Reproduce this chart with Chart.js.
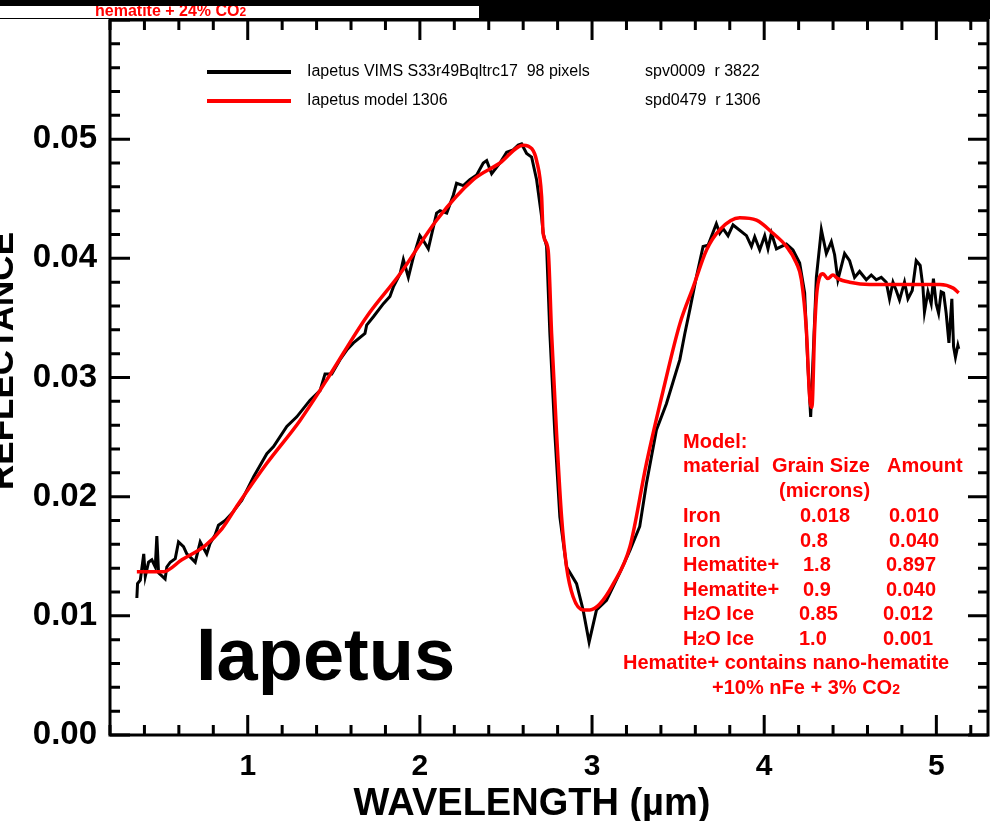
<!DOCTYPE html>
<html>
<head>
<meta charset="utf-8">
<script src="https://cdn.jsdelivr.net/npm/chart.js@4.4.1/dist/chart.umd.min.js"></script>
<style>
    html, body { margin: 0; padding: 0; background: #fff; }
    #wrap { width: 990px; height: 821px; }
</style>
</head>
<body>
<div id="wrap"><canvas id="chart" width="990" height="821"></canvas></div>
<script>
// VIMS spectrum (black)
const dataWave = [
    0.356, 0.36, 0.376, 0.396, 0.405, 0.424, 0.443, 0.463, 0.472, 0.482,
    0.52, 0.53, 0.55, 0.579, 0.598, 0.627, 0.646, 0.675, 0.695, 0.724,
    0.743, 0.762, 0.782, 0.811, 0.83, 0.869, 0.908, 0.966, 1.035, 1.111,
    1.15, 1.227, 1.285, 1.362, 1.42, 1.449, 1.488, 1.536, 1.575, 1.614,
    1.681, 1.691, 1.73, 1.788, 1.826, 1.846, 1.885, 1.904, 1.933, 1.962,
    2.0, 2.02, 2.049, 2.097, 2.117, 2.156, 2.194, 2.213, 2.252, 2.29,
    2.33, 2.368, 2.388, 2.417, 2.465, 2.504, 2.542, 2.571, 2.591, 2.62,
    2.649, 2.678, 2.707, 2.716, 2.736, 2.755, 2.784, 2.813, 2.852, 2.91,
    2.948, 2.983, 3.026, 3.084, 3.161, 3.22, 3.277, 3.316, 3.374, 3.432,
    3.47, 3.51, 3.539, 3.568, 3.607, 3.645, 3.674, 3.722, 3.742, 3.761, 3.79, 3.819,
    3.897, 3.926, 3.945, 3.974, 4.003, 4.022, 4.042, 4.071, 4.129, 4.167,
    4.206, 4.235, 4.254, 4.27, 4.303, 4.332, 4.361, 4.39, 4.409, 4.428,
    4.467, 4.496, 4.525, 4.554, 4.593, 4.622, 4.651, 4.68, 4.709, 4.728,
    4.748, 4.767, 4.786, 4.815, 4.835, 4.86, 4.883, 4.906, 4.922, 4.931,
    4.951, 4.97, 4.983, 4.999, 5.013, 5.028, 5.042, 5.057, 5.073, 5.09,
    5.1, 5.111, 5.125, 5.13,
];
const dataRefl = [
    0.0115, 0.0127, 0.0130, 0.0152, 0.0133, 0.0145, 0.0147, 0.0141, 0.0167, 0.0136,
    0.0131, 0.0141, 0.0145, 0.0148, 0.0162, 0.0158, 0.0152, 0.0148, 0.0145, 0.0162,
    0.0157, 0.0152, 0.0161, 0.0168, 0.0176, 0.0180, 0.0186, 0.0197, 0.0217, 0.0236,
    0.0242, 0.0259, 0.0267, 0.0281, 0.0289, 0.0303, 0.0303, 0.0315, 0.0323, 0.0329,
    0.0337, 0.0344, 0.0351, 0.0362, 0.0368, 0.0376, 0.0387, 0.0399, 0.0384, 0.0401,
    0.0419, 0.0415, 0.0408, 0.0438, 0.0440, 0.0438, 0.0453, 0.0463, 0.0461, 0.0466,
    0.0470, 0.0480, 0.0482, 0.0471, 0.0480, 0.0489, 0.0491, 0.0495, 0.0496, 0.0488,
    0.0485, 0.0466, 0.0435, 0.0421, 0.0410, 0.0337, 0.0253, 0.0183, 0.0141, 0.0127,
    0.0105, 0.0078, 0.0105, 0.0113, 0.0136, 0.0155, 0.0175, 0.0211, 0.0256, 0.0278,
    0.0296, 0.0315, 0.0337, 0.0357, 0.0385, 0.0410, 0.0411, 0.0429, 0.0421, 0.0425, 0.0419, 0.0428,
    0.0419, 0.0410, 0.0418, 0.0407, 0.0419, 0.0408, 0.0421, 0.0408, 0.0412, 0.0407,
    0.0396, 0.0371, 0.0309, 0.0267, 0.0384, 0.0424, 0.0404, 0.0414, 0.0403, 0.0382,
    0.0404, 0.0398, 0.0384, 0.0389, 0.0382, 0.0386, 0.0382, 0.0384, 0.0380, 0.0366,
    0.0380, 0.0373, 0.0365, 0.0380, 0.0366, 0.0373, 0.0398, 0.0394, 0.0376, 0.0355,
    0.0372, 0.0362, 0.0383, 0.0362, 0.0354, 0.0372, 0.0371, 0.0354, 0.0329, 0.0366,
    0.0326, 0.0317, 0.0327, 0.0324,
];

// model 1306 (red)
const modelWave = [
    0.356, 0.51, 0.617, 0.753, 0.85, 0.946, 1.111, 1.304, 1.459, 1.691,
    1.885, 2.097, 2.31, 2.465, 2.6, 2.65, 2.678, 2.707, 2.716, 2.745,
    2.765, 2.794, 2.823, 2.852, 2.89, 2.948, 2.987, 3.045, 3.12, 3.22,
    3.316, 3.413, 3.51, 3.588, 3.665, 3.742, 3.858, 3.955, 4.051, 4.129,
    4.187, 4.216, 4.245, 4.264, 4.277, 4.293, 4.307, 4.341, 4.37, 4.399,
    4.428, 4.496, 4.612, 4.728, 4.922, 5.02, 5.098, 5.13,
];
const modelRefl = [
    0.0137, 0.0137, 0.0147, 0.0159, 0.0173, 0.0194, 0.0228, 0.0264, 0.0298, 0.0351,
    0.0387, 0.0432, 0.0466, 0.0480, 0.0495, 0.0492, 0.0482, 0.0452, 0.0421, 0.0407,
    0.0337, 0.0253, 0.0183, 0.0141, 0.0116, 0.0105, 0.0105, 0.0110, 0.0126, 0.0158,
    0.0228, 0.0289, 0.0345, 0.0376, 0.0407, 0.0424, 0.0434, 0.0432, 0.0421, 0.0410,
    0.0396, 0.0382, 0.0340, 0.0284, 0.0275, 0.0340, 0.0373, 0.0387, 0.0383, 0.0386,
    0.0383, 0.0380, 0.0378, 0.0378, 0.0378, 0.0378, 0.0375, 0.0371,
];

const xTicks = [1, 2, 3, 4, 5];
const yTicks = [0, 0.01, 0.02, 0.03, 0.04, 0.05];

const legendRows = [
    ['#000', 'Iapetus VIMS S33r49Bqltrc17  98 pixels', 'spv0009  r 3822'],
    ['#f00', 'Iapetus model 1306', 'spd0479  r 1306'],
];

// model table: [material, grain size, amount]
const modelTable = [
    ['Iron', '0.018', '0.010'],
    ['Iron', '0.8', '0.040'],
    ['Hematite+', '1.8', '0.897'],
    ['Hematite+', '0.9', '0.040'],
    ['H|2|O Ice', '0.85', '0.012'],
    ['H|2|O Ice', '1.0', '0.001'],
];

const FONT = '"Liberation Sans", Arial, Helvetica, sans-serif';

function toPoints(xs, ys) {
    return xs.map((x, i) => ({ x: x, y: ys[i] }));
}

// draw text where "|2|" marks a small subscript
function subText(ctx, str, x, y, size) {
    let cx = x;
    str.split('|').forEach((part, i) => {
        let small = i % 2 == 1;
        ctx.font = 'bold ' + (small ? Math.round(size * 0.72) : size) + 'px ' + FONT;
        ctx.fillText(part, cx, y);
        cx += ctx.measureText(part).width;
    });
    return cx - x;
}

function measureSub(ctx, str, size) {
    let w = 0;
    str.split('|').forEach((part, i) => {
        ctx.font = 'bold ' + (i % 2 == 1 ? Math.round(size * 0.72) : size) + 'px ' + FONT;
        w += ctx.measureText(part).width;
    });
    return w;
}

const decorPlugin = {
    id: 'decor',
    afterDraw(chart) {
        const ctx = chart.ctx;
        const a = chart.chartArea;
        const xs = chart.scales.x;
        const ys = chart.scales.y;
        ctx.save();

        // frame
        ctx.strokeStyle = '#000';
        ctx.lineWidth = 3;
        ctx.strokeRect(a.left, a.top, a.right - a.left, a.bottom - a.top);

        // inward ticks on all four sides
        ctx.beginPath();
        for (let i = 0; i <= 25; i++) {
            let v = 0.2 + i * 0.2;
            let px = xs.getPixelForValue(v);
            let len = Math.abs(v - Math.round(v)) < 1e-6 ? 20 : 10;
            ctx.moveTo(px, a.bottom);
            ctx.lineTo(px, a.bottom - len);
            ctx.moveTo(px, a.top);
            ctx.lineTo(px, a.top + len);
        }
        for (let i = 0; i <= 30; i++) {
            let py = ys.getPixelForValue(i * 0.002);
            let len = i % 5 == 0 ? 20 : 10;
            ctx.moveTo(a.left, py);
            ctx.lineTo(a.left + len, py);
            ctx.moveTo(a.right, py);
            ctx.lineTo(a.right - len, py);
        }
        ctx.stroke();

        // header strip
        ctx.fillStyle = '#000';
        ctx.fillRect(0, 0, 990, 19);
        ctx.fillStyle = '#fff';
        ctx.fillRect(0, 6, 479, 12);
        ctx.save();
        ctx.beginPath();
        ctx.rect(0, 6, 479, 12);
        ctx.clip();
        ctx.fillStyle = '#f00';
        ctx.textAlign = 'left';
        ctx.textBaseline = 'alphabetic';
        subText(ctx, 'hematite + 24% CO|2|', 95, 16, 16);
        ctx.restore();

        // legend
        ctx.textBaseline = 'middle';
        ctx.textAlign = 'left';
        legendRows.forEach((row, i) => {
            let y = 72 + i * 29;
            ctx.strokeStyle = row[0];
            ctx.lineWidth = 4;
            ctx.beginPath();
            ctx.moveTo(207, y);
            ctx.lineTo(291, y);
            ctx.stroke();
            ctx.fillStyle = '#000';
            ctx.font = '16px ' + FONT;
            ctx.fillText(row[1], 307, y);
            ctx.fillText(row[2], 645, y);
        });

        // big label
        ctx.fillStyle = '#000';
        ctx.textBaseline = 'alphabetic';
        ctx.font = 'bold 74px ' + FONT;
        ctx.fillText('Iapetus', 196, 680);

        // model annotation
        let sz = 20;
        ctx.fillStyle = '#f00';
        ctx.font = 'bold ' + sz + 'px ' + FONT;
        ctx.fillText('Model:', 683, 448);
        ctx.fillText('material', 683, 472);
        ctx.fillText('Grain Size', 772, 472);
        ctx.fillText('Amount', 887, 472);
        ctx.fillText('(microns)', 779, 497);
        const colX = [[683, 683, 683, 683, 683, 683], [800, 800, 803, 803, 799, 799], [889, 889, 886, 886, 883, 883]];
        modelTable.forEach((row, i) => {
            let y = 522 + i * 24.5;
            subText(ctx, row[0], colX[0][i], y, sz);
            subText(ctx, row[1], colX[1][i], y, sz);
            subText(ctx, row[2], colX[2][i], y, sz);
        });
        ctx.font = 'bold ' + sz + 'px ' + FONT;
        ctx.fillText('Hematite+ contains nano-hematite', 623, 669);
        let foot = '+10% nFe + 3% CO|2|';
        subText(ctx, foot, 806 - measureSub(ctx, foot, sz) / 2, 694, sz);

        // axis titles
        ctx.fillStyle = '#000';
        ctx.textAlign = 'center';
        ctx.font = 'bold 38px ' + FONT;
        ctx.fillText('WAVELENGTH (\u00b5m)', 532, 815);

        ctx.save();
        ctx.translate(13, 361);
        ctx.rotate(-Math.PI / 2);
        ctx.font = 'bold 35px ' + FONT;
        ctx.fillText('REFLECTANCE', 0, 0);
        ctx.restore();

        ctx.restore();
    },
};

new Chart(document.getElementById('chart'), {
    type: 'scatter',
    data: {
        datasets: [
            {
                label: 'Iapetus model 1306',
                data: toPoints(modelWave, modelRefl),
                showLine: true,
                borderColor: '#f00',
                borderWidth: 3.5,
                pointRadius: 0,
                cubicInterpolationMode: 'monotone',
                order: 0,
            },
            {
                label: 'Iapetus VIMS S33r49Bqltrc17',
                data: toPoints(dataWave, dataRefl),
                showLine: true,
                borderColor: '#000',
                borderWidth: 3,
                pointRadius: 0,
                tension: 0,
                order: 1,
            },
        ],
    },
    options: {
        responsive: false,
        animation: false,
        devicePixelRatio: 1,
        layout: { padding: { top: 20, right: 2, left: 0, bottom: 0 } },
        plugins: {
            legend: { display: false },
            tooltip: { enabled: false },
        },
        scales: {
            x: {
                type: 'linear',
                min: 0.2,
                max: 5.3,
                afterFit: (s) => {
                    s.height = 86;
                    s.paddingLeft = 0;
                    s.paddingRight = 0;
                },
                afterBuildTicks: (s) => { s.ticks = xTicks.map((v) => ({ value: v })); },
                grid: { display: false, drawTicks: false },
                border: { display: false },
                ticks: {
                    color: '#000',
                    padding: 14,
                    maxRotation: 0,
                    font: { family: FONT, size: 30, weight: 'bold' },
                    callback: (v) => String(v),
                },
            },
            y: {
                type: 'linear',
                min: 0,
                max: 0.06,
                afterFit: (s) => {
                    s.width = 110;
                    s.paddingTop = 0;
                    s.paddingBottom = 0;
                },
                afterBuildTicks: (s) => { s.ticks = yTicks.map((v) => ({ value: v })); },
                grid: { display: false, drawTicks: false },
                border: { display: false },
                ticks: {
                    color: '#000',
                    padding: 13,
                    font: { family: FONT, size: 33, weight: 'bold' },
                    callback: (v) => v.toFixed(2),
                },
            },
        },
    },
    plugins: [decorPlugin],
});
</script>
</body>
</html>
